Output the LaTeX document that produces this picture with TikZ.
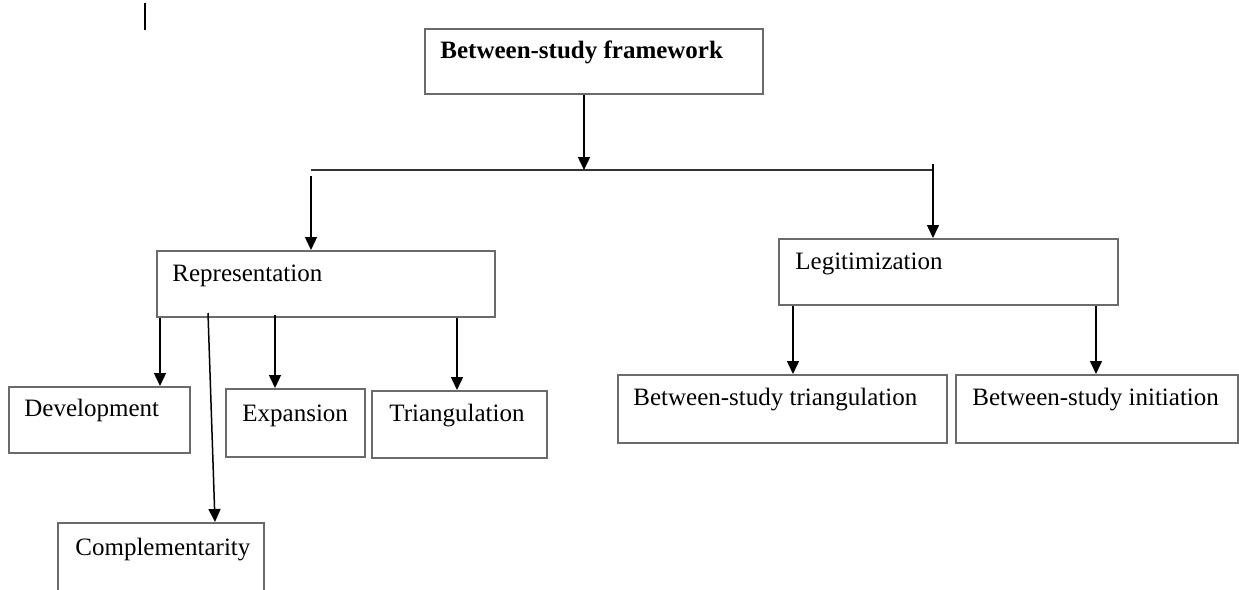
\documentclass[tikz,border=0pt]{standalone}
\usepackage{fontspec}
\setmainfont{Liberation Serif}
\usetikzlibrary{arrows.meta}
\begin{document}
\begin{tikzpicture}[x=0.5pt,y=-0.5pt,
  box/.style={draw=black!58, line width=1pt, rectangle, inner sep=0pt},
  lbl/.style={anchor=base west, inner sep=0pt, font=\fontsize{12.5pt}{15pt}\selectfont},
  arr/.style={draw=black, line width=0.75pt, -{Triangle[width=6pt,length=6.5pt]}},
  ln/.style={draw=black!80, line width=0.75pt}]
\clip (0,0) rectangle (1239,590);
\fill[white] (0,0) rectangle (1239,590);
% boxes
\node[box, minimum width=169pt, minimum height=32.5pt] (top) at (594,61.5) {};
\node[box, minimum width=169pt, minimum height=33pt] (rep) at (326,284) {};
\node[box, minimum width=169.5pt, minimum height=33pt] (leg) at (948.5,272) {};
\node[box, minimum width=90.5pt, minimum height=33pt] (dev) at (99.5,420) {};
\node[box, minimum width=69.5pt, minimum height=34pt] (exp) at (295.5,423) {};
\node[box, minimum width=87.5pt, minimum height=33.5pt] (tri) at (459.5,424.5) {};
\node[box, minimum width=103pt, minimum height=45pt] (comp) at (161,568) {};
\node[box, minimum width=164.5pt, minimum height=34pt] (bst) at (782.5,409) {};
\node[box, minimum width=141pt, minimum height=34pt] (bsi) at (1097,409) {};
% labels
\node[lbl, font=\fontsize{12.5pt}{15pt}\selectfont\bfseries] (ttop) at (440,58) {Between-study framework};
\node[lbl] (trep) at (172,281) {Representation};
\node[lbl] (tleg) at (795,269) {Legitimization};
\node[lbl] (tdev) at (24,416) {Development};
\node[lbl] (texp) at (242,421) {Expansion};
\node[lbl] (ttri) at (389,421) {Triangulation};
\node[lbl] (tcomp) at (75,555) {Complementarity};
\node[lbl] (tbst) at (633,405) {Between-study triangulation};
\node[lbl] (tbsi) at (972,405) {Between-study initiation};
% split line
\coordinate (hl) at (311,170);
\coordinate (hr) at (933,170);
\coordinate (hm) at (584,170);
\coordinate (lv) at (311,176);
\coordinate (rv) at (933,164);
\draw[ln] (hl) -- (hr);
\draw[arr] (top.south -| hm) -- (hm);
\draw[arr] (lv) -- (rep.north -| lv);
\draw[arr] (rv) -- (leg.north -| rv);
% representation children
\coordinate (a1) at (160,0);
\coordinate (a3) at (275,0);
\coordinate (a4) at (457,0);
\coordinate (c0) at (208,313);
\coordinate (c1) at (215,523);
\draw[arr] (rep.south -| a1) -- (dev.north -| a1);
\draw[arr] (c0) -- (c1 |- comp.north);
\draw[arr] ([yshift=1.5pt]rep.south -| a3) -- (exp.north -| a3);
\draw[arr] (rep.south -| a4) -- (tri.north -| a4);
% legitimization children
\coordinate (b1) at (793,0);
\coordinate (b2) at (1096,0);
\draw[arr] (leg.south -| b1) -- (bst.north -| b1);
\draw[arr] (leg.south -| b2) -- (bsi.north -| b2);
% stray mark
\coordinate (s0) at (145,3);
\coordinate (s1) at (145,30);
\draw[draw=black, line width=0.6pt] (s0) -- (s1);
\end{tikzpicture}
\end{document}
